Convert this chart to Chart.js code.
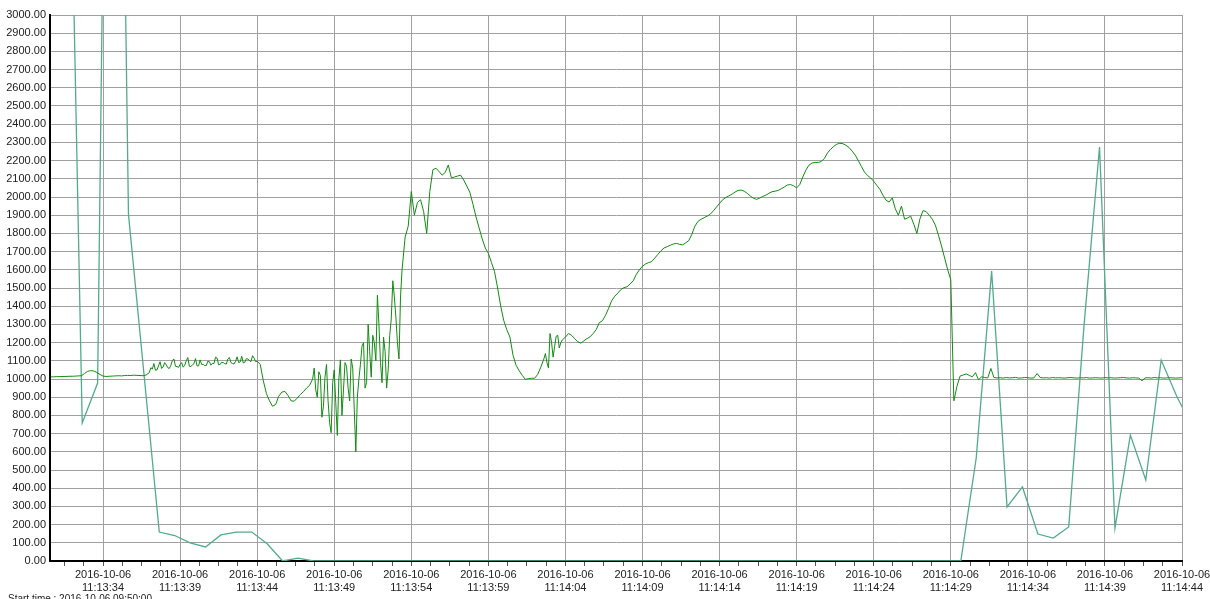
<!DOCTYPE html>
<html>
<head>
<meta charset="utf-8">
<title>Chart</title>
<script src="https://cdn.jsdelivr.net/npm/chart.js@4.4.1/dist/chart.umd.min.js"></script>
<style>
    html, body { margin: 0; padding: 0; background: #fff; }
    #wrap { width: 1210px; height: 599px; position: relative; }
</style>
</head>
<body>
<div id="wrap"><canvas id="myChart"></canvas></div>
<script>
// DATA
let startDate = '2016-10-06';
let startTimeText = 'Start time : 2016-10-06 09:50:00';
let tickTimes = ['11:13:34', '11:13:39', '11:13:44', '11:13:49', '11:13:54', '11:13:59', '11:14:04',
                 '11:14:09', '11:14:14', '11:14:19', '11:14:24', '11:14:29', '11:14:34', '11:14:39', '11:14:44'];

// green series : one sample every 0.2 s, first one at -3.4 s from 11:13:34
let greenStart = -3.4;
let greenStep = 0.2;
let greenValues = [
    1012,1012,1013,1013,1014,1014,1015,1015,1016,1017,1018,
    1030,1042,1046,1044,1036,1025,1016,1014,1015,1016,
    1017,1018,1017,1019,1020,1019,1021,1020,1019,1018,1022,
    1035,1055,1048,1072,1058,1090,1062,1075,1110,
    1068,1080,1065,1100,1070,1078,1112,1072,1080,1074,
    1098,1076,1085,1115,1080,1090,1082,1118,1085,1098,
    1090,1125,1092,1110,1096,1115,1098,1080,990,920,
    880,850,860,905,928,932,910,880,878,895,
    915,930,950,965,1000,940,1040,790,1010,880,
    705,1050,690,1105,940,1070,880,1060,600,1000,
    1180,950,1300,1010,1200,1460,1090,1230,950,1240,
    1540,1340,1110,1600,1780,1840,2030,1900,1970,1985,
    1920,1800,2030,2150,2158,2140,2120,2135,2176,2105,
    2110,2115,2120,2093,2060,2025,1960,1890,1830,1770,
    1720,1690,1640,1590,1500,1400,1320,1270,1230,1130,
    1075,1045,1020,998,1002,1004,1004,1025,1065,1110,
    1090,1250,1120,1235,1170,1215,1230,1250,1240,1222,
    1205,1197,1210,1222,1232,1250,1272,1310,1320,1350,
    1388,1430,1455,1472,1492,1502,1507,1522,1540,1575,
    1600,1620,1632,1640,1645,1665,1685,1705,1720,1727,
    1735,1742,1745,1740,1737,1748,1760,1795,1840,1866,
    1878,1886,1895,1906,1924,1945,1965,1985,1997,2006,
    2015,2027,2036,2038,2032,2020,2005,1993,1987,1994,
    2003,2010,2020,2029,2032,2036,2045,2055,2066,2068,
    2062,2050,2068,2110,2148,2175,2187,2190,2190,2195,
    2212,2242,2262,2278,2290,2295,2293,2284,2272,2252,
    2230,2200,2168,2137,2118,2105,2086,2064,2042,2010,
    1982,1972,1995,1935,1900,1950,1878,1885,1895,1850,
    1800,1880,1925,1920,1900,1878,1845,1790,1730,1665,
    1600,1545,880,960,1016,1022,1028,1020,1012,1035,
    996,1012,1008,1006,1058,1008,1006,1007,1005,1008,
    1006,1007,1009,1005,1006,1008,1007,1005,1006,1030,
    1008,1006,1007,1005,1008,1006,1007,1006,1005,1007,
    1008,1006,1005,1007,1006,1008,1005,1006,1007,1006,
    1005,1008,1006,1007,1005,1006,1007,1008,1006,1005,
    1007,1006,1005,990,1006,1007,1005,1008,1006,1007,
    1005,1006,1007,1006,1005,1006,1007
];

// extra green samples in the noisy parts (between the 0.2 s samples)
let noise1Start = 3.1;
let noise1Values = [1062,1085,1050,1095,1066,1078,1058,1102,1070,1064,1090,1075,1118,1068,1084,
                    1072,1105,1080,1074,1095,1086,1120,1078,1092,1084,1110,1090,1082,1122,1094,
                    1088,1112,1100,1128,1095];
let noise2Start = 13.7;
let noise2Values = [1060,900,1020,850,1080,760,980,870,1000,800,1090,950,1110,830,900,
                    1080,1200,980,1150,1240,1100,1300,980,1150,1050,1330,1450,1200,1450];
let noise3Start = 28.7;
let noise3Values = [1140,1060,1200,1180,1240,1200];

// teal series : seconds from 11:13:34 and values
let tealTimes = [-3.44, -2.35, -1.35, -0.35, 0.65, 1.65, 2.65, 3.65, 4.65, 5.65, 6.65, 7.65, 8.65, 9.65,
                 10.65, 11.65, 12.65, 13.65, 54.65, 55.65, 56.65, 57.65, 58.65, 59.65, 60.65, 61.65,
                 62.65, 63.65, 64.65, 65.65, 66.65, 67.65, 68.65, 69.65, 70.65];
let tealValues = [5000, 5000, 758, 978, 8000, 1906, 1033, 159, 140, 100, 77, 143, 159, 159,
                  95, 0, 16, 0, 0, 0, 566, 1593, 297, 407, 148, 126,
                  187, 1300, 2275, 181, 692, 445, 1104, 907, 740];

let xMin = -3.44;
let xMax = 70;

function stepPoints(start, values) {
    return values.map(function(v, i){ return { x: start + i * greenStep, y: v }; });
}

let greenData = stepPoints(greenStart, greenValues)
    .concat(stepPoints(noise1Start, noise1Values))
    .concat(stepPoints(noise2Start, noise2Values))
    .concat(stepPoints(noise3Start, noise3Values))
    .sort(function(a, b){ return a.x - b.x; });
let tealData = tealTimes.map(function(t, i){ return { x: t, y: tealValues[i] }; });

// ticks : majors every 5 s, small marks every 1.25 s
let xTicks = [];
for (let k = -2; k <= 56; k++) {
    let v = k * 1.25;
    if (v >= xMin && v <= xMax) xTicks.push({ value: v });
}

function isMajor(v) {
    return Math.abs(v / 5 - Math.round(v / 5)) < 1e-6;
}

let startTextPlugin = {
    id: 'startText',
    afterDraw: function(chart) {
        let ctx = chart.ctx;
        ctx.save();
        ctx.font = '10px "Liberation Sans", Arial, sans-serif';
        ctx.fillStyle = '#222';
        ctx.textAlign = 'left';
        ctx.textBaseline = 'top';
        ctx.fillText(startTimeText, 8, 594);
        ctx.restore();
    }
};

let fontDef = { family: '"Liberation Sans", Arial, sans-serif', size: 11 };

let myChart = new Chart(document.getElementById('myChart').getContext('2d'), {
    type: 'line',
    data: {
        datasets: [
            {
                label: 'green',
                data: greenData,
                borderColor: '#118c11',
                borderWidth: 1,
                pointRadius: 0,
                tension: 0
            },
            {
                label: 'teal',
                data: tealData,
                borderColor: '#52ab8e',
                borderWidth: 1.3,
                pointRadius: 0,
                tension: 0
            }
        ]
    },
    options: {
        responsive: true,
        maintainAspectRatio: false,
        animation: false,
        layout: { padding: { left: 0, top: 15, right: 0, bottom: 0 } },
        plugins: {
            legend: { display: false },
            tooltip: { enabled: false }
        },
        scales: {
            x: {
                type: 'linear',
                min: xMin,
                max: xMax,
                afterBuildTicks: function(axis){ axis.ticks = xTicks.slice(); },
                afterFit: function(scale){
                    scale.height = 38;
                    scale.paddingRight = 28;
                },
                border: { color: '#000', width: 2 },
                grid: {
                    color: function(c){ return c.tick && isMajor(c.tick.value) ? '#a0a0a0' : 'rgba(0,0,0,0)'; },
                    tickColor: '#555',
                    tickLength: 5,
                    drawTicks: true
                },
                ticks: {
                    autoSkip: false,
                    maxRotation: 0,
                    minRotation: 0,
                    padding: 2,
                    color: '#222',
                    font: fontDef,
                    callback: function(v){
                        if (!isMajor(v)) return '';
                        let idx = Math.round(v / 5);
                        return [startDate, tickTimes[idx]];
                    }
                }
            },
            y: {
                min: 0,
                max: 3000,
                afterFit: function(scale){ scale.width = 50; },
                border: { color: '#000', width: 2 },
                grid: { color: '#a0a0a0', drawTicks: false },
                ticks: {
                    stepSize: 100,
                    padding: 4,
                    color: '#222',
                    font: fontDef,
                    callback: function(v){ return Number(v).toFixed(2); }
                }
            }
        }
    },
    plugins: [startTextPlugin]
});
</script>
</body>
</html>
